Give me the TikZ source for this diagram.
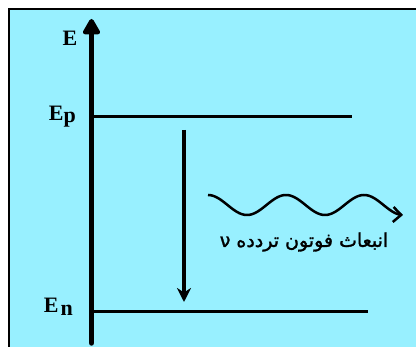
\documentclass[tikz,border=0pt]{standalone}
\usepackage{fontspec}
\setmainfont{Liberation Serif}
\newfontfamily\arabicfont[Script=Arabic,FakeBold=1.5]{DejaVu Sans}
\TeXXeTstate=1
\usetikzlibrary{arrows.meta}
\definecolor{bgcyan}{RGB}{152,240,255}
\tikzset{
  lbl/.style={font=\bfseries\fontsize{22}{22}\selectfont, inner sep=0pt},
  levelline/.style={line width=3.5pt},
  axisline/.style={line width=5.5pt, line cap=round, -{Triangle[length=18pt,width=19pt,round]}},
  transition/.style={line width=3.5pt, -{Stealth[length=14pt,width=14pt]}},
  wave/.style={line width=2.5pt, -{Straight Barb[length=8pt,width=15pt]}},
}
\begin{document}
\begin{tikzpicture}[x=1pt,y=-1pt]
\useasboundingbox (0,0) rectangle (416,347);
\begin{scope}
  \clip (0,0) rectangle (416,347);
  \fill[bgcyan, draw=black, line width=2pt] (8.5,9.5) rectangle (440,370);
\end{scope}
% axis
\coordinate (axb) at (91.5,343);
\coordinate (axt) at (91.5,19);
\draw[axisline] (axb) -- (axt);
\node[lbl] (elabel) at (70,38) {E};
% levels
\coordinate (ep1) at (91.5,116.5);
\coordinate (ep2) at (352,116.5);
\coordinate (en1) at (91.5,311.5);
\coordinate (en2) at (368,311.5);
\draw[levelline] (ep1) -- (ep2);
\draw[levelline] (en1) -- (en2);
\node[lbl, anchor=base east] (eplabel) at (76,121) {E\raisebox{-1.5pt}{p}};
\node[lbl, anchor=base east] (enlabel) at (73,313) {E\hspace{2pt}\raisebox{-3pt}{n}};
% transition
\coordinate (tr1) at (184,130);
\coordinate (tr2) at (184,302);
\draw[transition] (tr1) -- (tr2);
% photon
\draw[wave] plot[domain=0:900, samples=120] ({208+\x*0.216667}, {205-10*cos(\x)});
\node[inner sep=0pt, font=\arabicfont\fontsize{19}{19}\selectfont] (photon) at (304,242) {\beginR انبعاث فوتون تردده ν\endR};
\end{tikzpicture}
\end{document}
